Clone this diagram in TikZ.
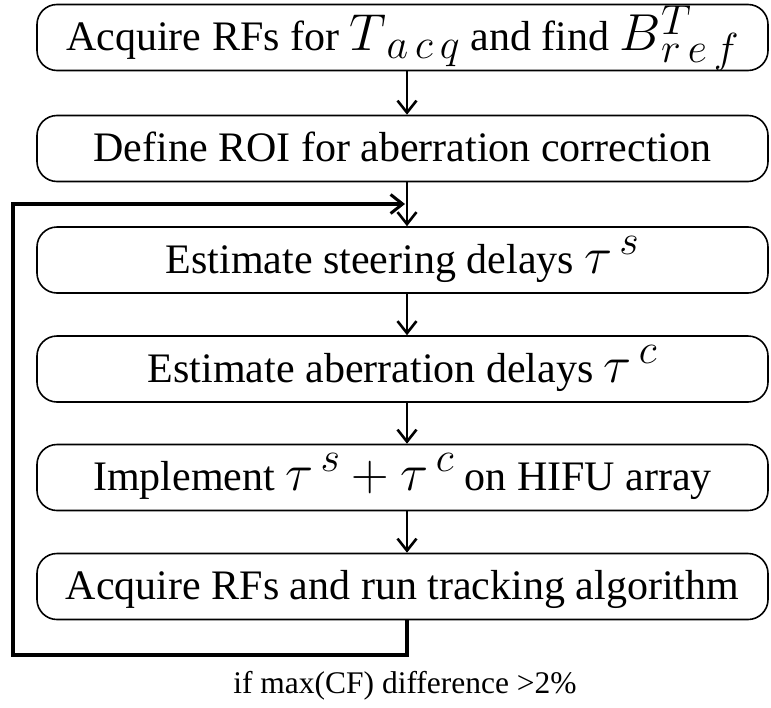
\RequirePackage{fix-cm}
\documentclass[tikz,border=0pt]{standalone}
\usepackage{fontspec}
\setmainfont{Liberation Serif}
\usetikzlibrary{arrows.meta,calc}
\DeclareMathSizes{52}{52}{42}{32}
\newcommand\mth[1]{{\fontsize{52}{58}\selectfont$#1$}}
\newcommand\scr[1]{{\fontsize{52}{58}\selectfont$\scriptstyle #1$}}
\begin{document}
\begin{tikzpicture}[x=1pt,y=-1pt,
  box/.style={draw, line width=1.6pt, rounded corners=20pt, minimum width=731pt,
    minimum height=66pt, inner sep=0pt, text height=40pt, text depth=14pt,
    font=\fontsize{42}{48}\selectfont},
  arr/.style={line width=2.4pt, -{Straight Barb[length=12pt,width=19pt,line width=2.6pt]}},
  fb/.style={line width=4pt, -{Straight Barb[length=12pt,width=19pt,line width=3pt]}},
  lbl/.style={inner sep=0pt, font=\fontsize{31.5}{36}\selectfont}]
\useasboundingbox (0,0) rectangle (771,707);
\node[box] (b1) at (402.5,37.5) {Acquire RFs for \mth{T_{\,a\mkern3mu c\mkern3mu q}} and find \mth{B}\rlap{\raisebox{16pt}{\scr{T}}}\raisebox{-12pt}{\scr{r\mkern3mu e\mkern3mu f}}};
\node[box] (b2) at (402.5,148.5) {Define ROI for aberration correction};
\node[box] (b3) at (402.5,260) {Estimate steering delays \mth{\tau^{\,s}}};
\node[box] (b4) at (402.5,369) {Estimate aberration delays \mth{\tau^{\,c}}};
\node[box] (b5) at (402.5,477.5) {Implement \mth{\tau^{\,s}+\tau^{\,c}} on HIFU array};
\node[box] (b6) at (402.5,586.5) {Acquire RFs and run tracking algorithm};
\node[lbl] (cond) at (405,686) {if max(CF) difference >2\%};
\coordinate (xa) at (407,0);
\coordinate (lp) at (405,204);
\draw[arr] (b1.south -| xa) -- (b2.north -| xa);
\draw[arr] (b2.south -| xa) -- (b3.north -| xa);
\draw[arr] (b3.south -| xa) -- (b4.north -| xa);
\draw[arr] (b4.south -| xa) -- (b5.north -| xa);
\draw[arr] (b5.south -| xa) -- (b6.north -| xa);
\draw[fb] (b6.south -| xa) -- (xa |- 0,655) -- (13,655) -- (13,204) -- (lp);
\end{tikzpicture}
\end{document}
